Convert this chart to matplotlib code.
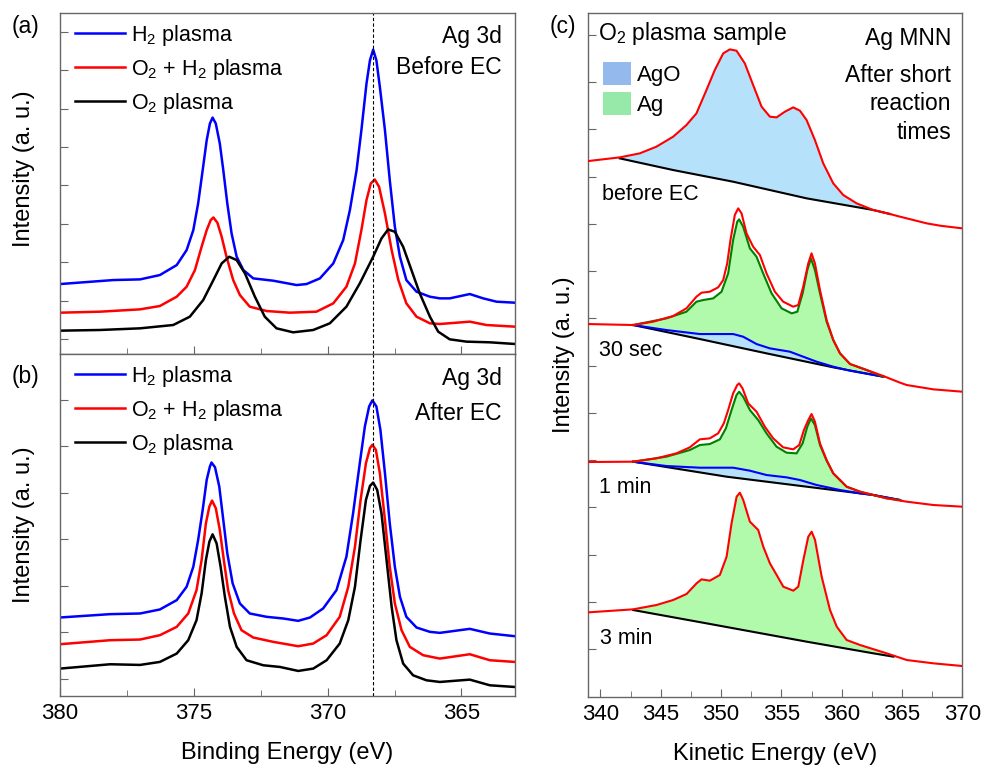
import numpy as np
import matplotlib
matplotlib.use("Agg")
import matplotlib.pyplot as plt
from matplotlib.patches import Patch
from matplotlib.ticker import MultipleLocator

plt.rcParams['font.family'] = ['Liberation Sans', 'DejaVu Sans']
plt.rcParams['mathtext.default'] = 'regular'

# ---------------- Ag 3d, before EC (panel a) ----------------
a_h2_x = [380.00, 378.01, 377.01, 376.27, 375.64, 375.27, 375.02, 374.84, 374.67, 374.52, 374.40, 374.30,
          374.18, 374.03, 373.90, 373.75, 373.59, 373.40, 373.15, 372.78, 372.03, 371.16, 370.79, 370.29,
          369.79, 369.42, 369.17, 368.92, 368.74, 368.55, 368.42, 368.30, 368.18, 368.05, 367.86, 367.68,
          367.49, 367.30, 367.06, 366.68, 366.18, 365.81, 365.44, 364.69, 364.19, 363.69, 363.01]
a_h2_y = [210, 222, 224, 237, 267, 312, 372, 452, 552, 642, 692, 710,
          692, 632, 552, 452, 362, 292, 252, 227, 220, 207, 210, 227,
          272, 342, 432, 552, 672, 812, 882, 914, 882, 802, 672, 522,
          382, 292, 222, 187, 172, 167, 167, 180, 167, 157, 154]

a_mix_x = [380.00, 378.51, 377.01, 376.27, 375.64, 375.27, 374.96, 374.71, 374.52, 374.37, 374.27, 374.12,
           373.96, 373.78, 373.53, 373.28, 372.91, 372.28, 371.41, 370.42, 369.79, 369.30, 368.98, 368.74,
           368.55, 368.39, 368.24, 368.08, 367.86, 367.61, 367.36, 367.06, 366.68, 366.18, 365.81, 364.69,
           364.07, 363.01]
a_mix_y = [124, 127, 134, 144, 172, 202, 252, 322, 372, 402, 410, 394,
           352, 292, 222, 177, 142, 129, 124, 127, 152, 202, 272, 372,
           462, 512, 524, 502, 422, 312, 222, 152, 112, 92, 90, 97,
           87, 82]

a_o2_x = [380.00, 378.51, 377.01, 375.77, 375.15, 374.65, 374.27, 373.96, 373.68, 373.40, 373.09, 372.72,
          372.35, 371.91, 371.29, 370.54, 369.92, 369.30, 368.80, 368.30, 367.99, 367.74, 367.49, 367.18,
          366.87, 366.56, 366.18, 365.87, 365.44, 364.81, 363.94, 363.01]
a_o2_y = [70, 72, 77, 87, 112, 162, 222, 272, 292, 282, 242, 172,
          112, 77, 65, 72, 92, 142, 212, 292, 347, 374, 367, 322,
          252, 182, 112, 67, 44, 37, 35, 30]

# ---------------- Ag 3d, after EC (panel b) ----------------
b_h2_x = [380.00, 378.13, 377.01, 376.27, 375.64, 375.27, 375.02, 374.84, 374.67, 374.52, 374.40, 374.34,
          374.21, 374.05, 373.90, 373.75, 373.55, 373.28, 372.91, 372.28, 371.66, 371.10, 370.66, 370.17,
          369.67, 369.30, 369.05, 368.80, 368.61, 368.45, 368.33, 368.18, 368.03, 367.86, 367.68, 367.49,
          367.30, 367.06, 366.68, 366.18, 365.81, 364.69, 363.94, 363.01]
b_h2_y = [235, 245, 247, 259, 287, 327, 387, 467, 557, 647, 687, 699,
          685, 627, 527, 427, 337, 277, 247, 237, 232, 225, 235, 262,
          317, 417, 547, 697, 807, 867, 885, 867, 797, 667, 517, 387,
          297, 237, 205, 192, 189, 201, 187, 179]

b_mix_x = [380.00, 378.13, 377.01, 376.27, 375.64, 375.21, 374.90, 374.71, 374.55, 374.42, 374.32, 374.18,
           374.03, 373.88, 373.72, 373.50, 373.22, 372.78, 372.03, 371.10, 370.54, 370.04, 369.55, 369.23,
           368.98, 368.77, 368.57, 368.42, 368.33, 368.20, 368.05, 367.86, 367.68, 367.49, 367.24, 366.93,
           366.43, 365.81, 364.69, 363.94, 363.01]
b_mix_y = [155, 167, 169, 182, 207, 247, 317, 407, 517, 567, 585, 562,
           497, 407, 317, 247, 197, 175, 162, 149, 157, 182, 237, 327,
           447, 587, 697, 742, 752, 737, 667, 527, 387, 277, 197, 147,
           122, 112, 125, 107, 102]

b_o2_x = [380.00, 378.13, 377.01, 376.27, 375.64, 375.21, 374.90, 374.71, 374.55, 374.42, 374.30, 374.15,
          374.00, 373.84, 373.65, 373.40, 373.03, 372.41, 371.79, 371.10, 370.54, 370.04, 369.55, 369.23,
          368.98, 368.77, 368.57, 368.42, 368.30, 368.15, 367.99, 367.80, 367.61, 367.43, 367.18, 366.81,
          366.31, 365.81, 364.69, 363.94, 363.01]
b_o2_y = [82, 95, 93, 102, 127, 167, 227, 307, 407, 462, 484, 457,
          387, 297, 207, 147, 107, 92, 87, 75, 82, 107, 157, 227,
          327, 467, 587, 629, 639, 617, 547, 407, 267, 167, 97, 62,
          47, 42, 49, 32, 27]

ag3d_line = 368.3

# ---------------- Ag MNN (panel c) ----------------
# before EC
c1_x = [339.00, 341.60, 343.26, 344.64, 346.03, 347.13, 347.96, 348.79, 349.48, 350.18, 350.73, 351.28,
        351.97, 352.66, 353.36, 354.05, 354.60, 355.29, 355.98, 356.54, 357.09, 357.78, 358.47, 359.30,
        360.13, 361.24, 362.62, 364.01, 364.84, 367.05, 368.16, 370.00]
c1_y = [1607, 1618, 1630, 1650, 1680, 1715, 1750, 1820, 1880, 1930, 1942, 1938,
        1900, 1835, 1770, 1740, 1738, 1755, 1768, 1758, 1730, 1670, 1600, 1540,
        1505, 1480, 1460, 1448, 1440, 1420, 1413, 1405]
c1_bg_x = [341.60, 346.03, 351.00, 357.10, 362.63, 364.01]
c1_bg_y = [1615, 1580, 1545, 1495, 1460, 1448]

# 30 sec
c2_x = [339.00, 342.71, 344.37, 346.03, 347.13, 347.96, 348.38, 349.07, 349.76, 350.18, 350.51, 350.78,
        351.14, 351.42, 351.70, 352.11, 352.66, 353.22, 353.77, 354.46, 355.15, 355.98, 356.40, 356.81,
        357.23, 357.50, 357.78, 358.20, 358.75, 359.30, 359.86, 360.69, 362.07, 363.45, 364.84, 365.39,
        367.61, 370.00]
c2_y = [1118, 1115, 1125, 1142, 1165, 1200, 1212, 1215, 1228, 1250, 1300, 1370,
        1445, 1465, 1450, 1390, 1350, 1325, 1270, 1215, 1185, 1170, 1175, 1230,
        1300, 1330, 1300, 1220, 1130, 1070, 1030, 998, 980, 962, 942, 935,
        922, 915]
c2_bg_x = [342.71, 348.24, 353.77, 359.30, 363.45]
c2_bg_y = [1115, 1073, 1030, 988, 960]
c2_ago_x = [342.71, 345.47, 348.24, 351.00, 351.83, 352.94, 354.05, 355.71, 356.81, 357.92, 359.30, 360.69,
            363.45]
c2_ago_y = [1115, 1100, 1088, 1088, 1080, 1058, 1045, 1035, 1020, 1005, 990, 978,
            960]
c2_ag_x = [342.71, 345.47, 347.13, 347.96, 348.52, 349.35, 350.04, 350.59, 351.00, 351.34, 351.50, 351.83,
           352.39, 352.94, 353.49, 354.19, 355.02, 355.85, 356.32, 356.76, 357.15, 357.45, 357.78, 358.20,
           358.75, 359.30, 359.86, 360.69, 362.07, 363.45]
c2_ag_y = [1115, 1135, 1155, 1185, 1190, 1195, 1215, 1270, 1370, 1425, 1432, 1410,
           1345, 1320, 1270, 1210, 1165, 1150, 1155, 1210, 1280, 1315, 1280, 1210,
           1125, 1070, 1030, 998, 980, 960]

# 1 min
c3_x = [339.00, 342.71, 344.64, 346.30, 347.41, 348.24, 349.07, 349.76, 350.23, 350.59, 351.00, 351.34,
        351.50, 351.78, 352.25, 352.94, 353.63, 354.32, 355.15, 355.98, 356.48, 356.87, 357.23, 357.50,
        357.78, 358.20, 358.75, 359.30, 360.41, 361.52, 363.73, 365.39, 367.61, 370.00]
c3_y = [704, 705, 715, 730, 748, 772, 775, 790, 820, 860, 910, 935,
        940, 925, 880, 855, 810, 775, 748, 742, 755, 800, 830, 848,
        825, 760, 710, 670, 630, 615, 595, 585, 575, 570]
c3_bg_x = [342.71, 350.46, 357.10, 362.63, 364.84]
c3_bg_y = [705, 660, 630, 605, 590]
c3_ago_x = [342.71, 345.47, 348.24, 351.00, 352.39, 353.77, 355.43, 356.54, 357.93, 359.86, 361.52, 362.63,
            364.84]
c3_ago_y = [705, 692, 687, 687, 678, 665, 658, 650, 635, 620, 610, 605,
            590]
c3_ag_x = [342.71, 345.47, 347.41, 348.24, 349.07, 349.90, 350.40, 350.87, 351.28, 351.50, 351.83, 352.39,
           353.08, 353.77, 354.60, 355.43, 356.26, 356.76, 357.15, 357.45, 357.78, 358.20, 358.75, 359.30,
           360.41, 361.52, 363.73, 364.84]
c3_ag_y = [705, 720, 740, 755, 758, 772, 805, 860, 905, 915, 900, 860,
           830, 790, 750, 732, 730, 760, 810, 835, 815, 755, 708, 670,
           630, 615, 595, 590]

# 3 min
c4_x = [339.00, 342.71, 344.65, 346.03, 347.14, 347.97, 348.38, 349.07, 349.90, 350.46, 350.87, 351.29,
        351.56, 351.84, 352.39, 353.08, 353.50, 354.05, 354.61, 355.16, 355.99, 356.40, 356.82, 357.23,
        357.51, 357.79, 358.34, 359.03, 359.59, 360.41, 361.52, 363.73, 365.39, 367.61, 370.00]
c4_y = [253, 262, 275, 290, 308, 340, 352, 348, 365, 420, 520, 600,
        612, 590, 525, 500, 450, 400, 365, 330, 318, 330, 410, 480,
        495, 470, 360, 260, 210, 170, 155, 130, 110, 100, 92]
c4_bg_x = [342.71, 348.80, 357.10, 362.63, 364.29]
c4_bg_y = [260, 220, 165, 130, 120]

c_labels = ['before EC', '30 sec', '1 min', '3 min']

col_h2 = '#0000ff'
col_mix = '#ff0000'
col_o2 = '#000000'
fill_ago = '#b5e2fa'
fill_ag = '#b1f9ab'
patch_ago = '#94b9ec'
patch_ag = '#96e9a8'
spine_col = '#666666'


def style_axes(ax, ystep, ystart, ytop):
    for s in ax.spines.values():
        s.set_color(spine_col)
        s.set_linewidth(1.0)
    ax.tick_params(which='both', direction='in', top=False, right=False,
                   color=spine_col, labelcolor='black', labelsize=16, pad=5)
    ax.tick_params(which='major', length=6)
    ax.tick_params(which='minor', length=4)
    ax.set_yticks(np.arange(ystart, ytop, ystep))
    ax.tick_params(axis='y', labelleft=False)
    ax.set_ylim(0, ytop)


def fill_under(ax, top_x, top_y, low_x, low_y, color):
    px = np.concatenate([top_x, np.asarray(low_x)[::-1]])
    py = np.concatenate([top_y, np.asarray(low_y)[::-1]])
    ax.fill(px, py, color=color, lw=0, zorder=1)


fig = plt.figure(figsize=(9.84, 7.66), dpi=100)
ax_a = fig.add_axes([0.0610, 0.5379, 0.4624, 0.4451])
ax_b = fig.add_axes([0.0610, 0.0914, 0.4624, 0.4465])
ax_c = fig.add_axes([0.5979, 0.0905, 0.3801, 0.8929])

# ---- panels a and b ----
panels = [
    (ax_a, a_h2_x, a_h2_y, a_mix_x, a_mix_y, a_o2_x, a_o2_y, 'Before EC', 115.3, 45, 0.913, 0.821),
    (ax_b, b_h2_x, b_h2_y, b_mix_x, b_mix_y, b_o2_x, b_o2_y, 'After EC', 139.0, 52, 0.909, 0.807),
]
for ax, hx, hy, mx, my, ox, oy, state, ystep, ystart, y1, y2 in panels:
    ax.plot(hx, hy, color=col_h2, lw=1.8, label='H$_2$ plasma')
    ax.plot(mx, my, color=col_mix, lw=1.8, label='O$_2$ + H$_2$ plasma')
    ax.plot(ox, oy, color=col_o2, lw=1.8, label='O$_2$ plasma')
    ax.axvline(ag3d_line, color='black', lw=0.8, ls=(0, (3, 2)))
    ax.set_xlim(380, 363)
    ax.xaxis.set_major_locator(MultipleLocator(5))
    ax.xaxis.set_minor_locator(MultipleLocator(2.5))
    style_axes(ax, ystep, ystart, 1024)
    ax.legend(loc='upper left', bbox_to_anchor=(0.033, 0.972), frameon=False,
              fontsize=15.5, handlelength=2.33, handletextpad=0.25,
              labelspacing=0.42, borderpad=0, borderaxespad=0)
    ax.text(0.971, y1, 'Ag 3d', transform=ax.transAxes,
            ha='right', va='baseline', fontsize=16.5)
    ax.text(0.971, y2, state, transform=ax.transAxes,
            ha='right', va='baseline', fontsize=16.5)
    ax.set_ylabel('Intensity (a. u.)', fontsize=17)

ax_a.yaxis.set_label_coords(-0.055, 0.544)
ax_b.yaxis.set_label_coords(-0.055, 0.5)
ax_a.tick_params(axis='x', labelbottom=False)
ax_b.set_xlabel('Binding Energy (eV)', fontsize=17, labelpad=13)

# ---- panel c ----
ax = ax_c
c1x, c1y = np.array(c1_x), np.array(c1_y)
m1 = (c1x >= c1_bg_x[0]) & (c1x <= c1_bg_x[-1])
fill_under(ax, c1x[m1], c1y[m1], c1_bg_x, c1_bg_y, fill_ago)

for ago_x, ago_y, ag_x, ag_y, bg_x, bg_y in [
        (c2_ago_x, c2_ago_y, c2_ag_x, c2_ag_y, c2_bg_x, c2_bg_y),
        (c3_ago_x, c3_ago_y, c3_ag_x, c3_ag_y, c3_bg_x, c3_bg_y)]:
    fill_under(ax, ago_x, ago_y, bg_x, bg_y, fill_ago)
    fill_under(ax, ag_x, ag_y, ago_x, ago_y, fill_ag)

c4x, c4y = np.array(c4_x), np.array(c4_y)
m4 = (c4x >= c4_bg_x[0]) & (c4x <= c4_bg_x[-1])
fill_under(ax, c4x[m4], c4y[m4], c4_bg_x, c4_bg_y, fill_ag)

for bg_x, bg_y in [(c1_bg_x, c1_bg_y), (c2_bg_x, c2_bg_y), (c3_bg_x, c3_bg_y), (c4_bg_x, c4_bg_y)]:
    ax.plot(bg_x, bg_y, color='black', lw=1.5, zorder=2)
for ago_x, ago_y in [(c2_ago_x, c2_ago_y), (c3_ago_x, c3_ago_y)]:
    ax.plot(ago_x, ago_y, color='#0000ff', lw=1.5, zorder=3)
for ag_x, ag_y in [(c2_ag_x, c2_ag_y), (c3_ag_x, c3_ag_y)]:
    ax.plot(ag_x, ag_y, color='#008000', lw=1.5, zorder=3)
for sx, sy in [(c1_x, c1_y), (c2_x, c2_y), (c3_x, c3_y), (c4_x, c4_y)]:
    ax.plot(sx, sy, color='#ff0000', lw=1.5, zorder=4)

ax.set_xlim(339, 370)
ax.xaxis.set_major_locator(MultipleLocator(5))
ax.xaxis.set_minor_locator(MultipleLocator(2.5))
style_axes(ax, 141.7, 143, 2052)
ax.set_xlabel('Kinetic Energy (eV)', fontsize=17, labelpad=13)
ax.set_ylabel('Intensity (a. u.)', fontsize=17)
ax.yaxis.set_label_coords(-0.0356, 0.5)

ax.text(0.027, 0.960, 'O$_2$ plasma sample', transform=ax.transAxes, ha='left', va='baseline', fontsize=16.5)
ax.text(0.970, 0.953, 'Ag MNN', transform=ax.transAxes, ha='right', va='baseline', fontsize=16.5)
for yy, line in zip([0.899, 0.858, 0.816], ['After short', 'reaction', 'times']):
    ax.text(0.970, yy, line, transform=ax.transAxes, ha='right', va='baseline', fontsize=16.5)
for (xx, yy), lab in zip([(0.036, 0.726), (0.029, 0.498), (0.029, 0.298), (0.032, 0.0766)], c_labels):
    ax.text(xx, yy, lab, transform=ax.transAxes, ha='left', va='baseline', fontsize=15.5)

handles = [Patch(facecolor=patch_ago, edgecolor='none', label='AgO'),
           Patch(facecolor=patch_ag, edgecolor='none', label='Ag')]
ax.legend(handles=handles, loc='upper left', bbox_to_anchor=(0.0385, 0.928), frameon=False,
          fontsize=16, handlelength=1.26, handleheight=1.22, handletextpad=0.3,
          labelspacing=0.27, borderpad=0, borderaxespad=0)

fig.text(12 / 984, 1 - 33 / 766, '(a)', fontsize=16.5, va='baseline')
fig.text(12 / 984, 1 - 383 / 766, '(b)', fontsize=16.5, va='baseline')
fig.text(550 / 984, 1 - 33 / 766, '(c)', fontsize=16.5, va='baseline')

fig.savefig('out.png', dpi=100)
